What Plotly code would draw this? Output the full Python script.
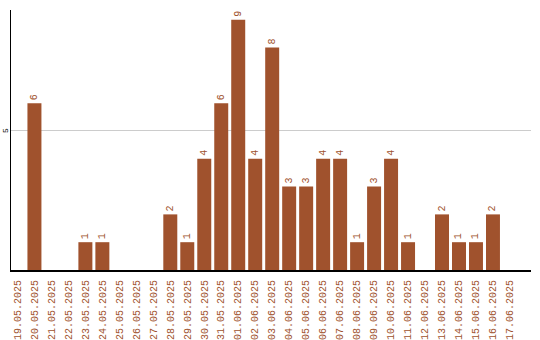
import plotly.graph_objects as go

dates = ["19.05.2025", "20.05.2025", "21.05.2025", "22.05.2025", "23.05.2025",
         "24.05.2025", "25.05.2025", "26.05.2025", "27.05.2025", "28.05.2025",
         "29.05.2025", "30.05.2025", "31.05.2025", "01.06.2025", "02.06.2025",
         "03.06.2025", "04.06.2025", "05.06.2025", "06.06.2025", "07.06.2025",
         "08.06.2025", "09.06.2025", "10.06.2025", "11.06.2025", "12.06.2025",
         "13.06.2025", "14.06.2025", "15.06.2025", "16.06.2025", "17.06.2025"]
counts = [0, 6, 0, 0, 1, 1, 0, 0, 0, 2,
          1, 4, 6, 9, 4, 8, 3, 3, 4, 4,
          1, 3, 4, 1, 0, 2, 1, 1, 2, 0]
y_ticks = [5]

bar_color = "#A0522D"
labels = [str(v) if v else "" for v in counts]

fig = go.Figure(go.Bar(
    x=dates, y=counts, text=labels,
    textposition="outside", textangle=-90,
    textfont=dict(family="Liberation Mono", size=10, color=bar_color),
    marker=dict(color=bar_color, line=dict(width=0)),
    width=14 / 17, cliponaxis=False,
))

for t in y_ticks:
    fig.add_annotation(x=0, xref="paper", y=t, yref="y", text=str(t),
                       showarrow=False, textangle=-90, xanchor="center",
                       yanchor="middle", xshift=-5, borderpad=0,
                       font=dict(family="Liberation Mono", size=8, color="black"))

fig.update_layout(
    width=540, height=340,
    margin=dict(l=10.5, r=9, t=10, b=70),
    paper_bgcolor="white", plot_bgcolor="white",
    showlegend=False,
    xaxis=dict(type="category", range=[-0.38, 30.24], tickangle=-90,
               tickfont=dict(family="Liberation Mono", size=10, color=bar_color),
               showgrid=False, showline=True, linecolor="black", linewidth=2,
               ticks="", ticklabelstandoff=4, automargin=False),
    yaxis=dict(range=[0, 9.35], tickvals=y_ticks, showticklabels=False,
               showgrid=True, gridcolor="#cccccc", gridwidth=1,
               showline=True, linecolor="black", linewidth=1,
               zeroline=False, ticks="", automargin=False),
)

fig.write_html("out.html")
